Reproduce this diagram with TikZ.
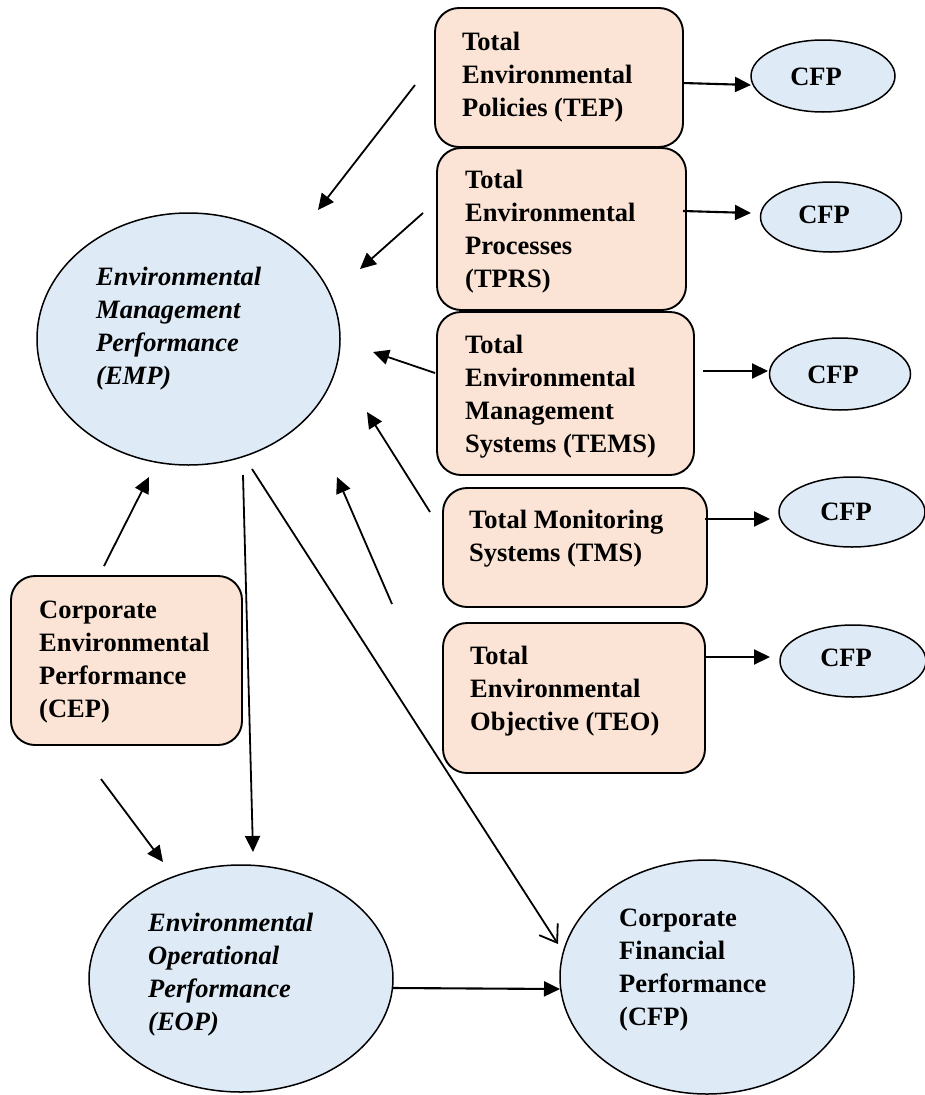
\documentclass[tikz,border=0pt]{standalone}
\usepackage{fontspec}
\setmainfont{Liberation Serif}
\usetikzlibrary{shapes.geometric,arrows.meta}
\definecolor{peach}{HTML}{FBE4D5}
\definecolor{lblue}{HTML}{DEEAF6}
\begin{document}
\begin{tikzpicture}[x=1pt,y=-1pt,
  pbox/.style={draw, line width=1.9pt, fill=peach, rounded corners=24pt, inner sep=0pt},
  bell/.style={draw, line width=1.5pt, fill=lblue, ellipse, inner sep=0pt},
  txt/.style={anchor=west, align=left, inner sep=0pt, font=\fontsize{26.5}{33}\selectfont\bfseries},
  itxt/.style={anchor=west, align=left, inner sep=0pt, font=\fontsize{26.5}{33}\selectfont\bfseries\itshape},
  ctxt/.style={inner sep=0pt, font=\fontsize{26.5}{33}\selectfont\bfseries},
  arr/.style={line width=2.1pt, -{Triangle[length=16pt,width=15pt]}},
  larr/.style={line width=1.8pt, -{Triangle[length=16pt,width=15pt]}},
  oarr/.style={line width=1.8pt, -{Straight Barb[length=16pt,width=22pt,line width=1.8pt]}}]
\useasboundingbox (0,0) rectangle (925,1095);
\fill[white] (0,0) rectangle (925,1095);

% boxes
\node[pbox, minimum width=248pt, minimum height=139pt] (tep) at (559,77.5) {};
\node[pbox, minimum width=249pt, minimum height=162pt] (tprs) at (561.5,229) {};
\node[pbox, minimum width=257pt, minimum height=163pt] (tems) at (565.5,393.5) {};
\node[pbox, minimum width=264pt, minimum height=119pt] (tms) at (575,547.5) {};
\node[pbox, minimum width=262pt, minimum height=150pt] (teo) at (574,698) {};
\node[pbox, minimum width=231pt, minimum height=169pt] (cep) at (126.5,660.5) {};

% ellipses
\node[bell, minimum width=303pt, minimum height=252pt] (emp) at (188.5,339) {};
\node[bell, minimum width=304pt, minimum height=227pt] (eop) at (241,978.5) {};
\node[bell, minimum width=294pt, minimum height=234pt] (cfp) at (707,977) {};
\node[bell, minimum width=144pt, minimum height=72pt] (cfp1) at (823,76) {};
\node[bell, minimum width=141pt, minimum height=70pt] (cfp2) at (831,217) {};
\node[bell, minimum width=141pt, minimum height=72pt] (cfp3) at (840,374) {};
\node[bell, minimum width=146pt, minimum height=70pt] (cfp4) at (852,512) {};
\node[bell, minimum width=146pt, minimum height=72pt] (cfp5) at (853,661) {};

% texts
\node[txt] (tep-t) at (462,77) {Total\\Environmental\\Policies (TEP)};
\node[txt] (tprs-t) at (465,232) {Total\\Environmental\\Processes\\(TPRS)};
\node[txt] (tems-t) at (465,397) {Total\\Environmental\\Management\\Systems (TEMS)};
\node[txt] (tms-t) at (469,538.5) {Total Monitoring\\Systems (TMS)};
\node[txt] (teo-t) at (470,691.5) {Total\\Environmental\\Objective (TEO)};
\node[txt] (cep-t) at (39,662.5) {Corporate\\Environmental\\Performance\\(CEP)};
\node[itxt] (emp-t) at (96,329) {Environmental\\Management\\Performance\\(EMP)};
\node[itxt] (eop-t) at (148,975) {Environmental\\Operational\\Performance\\(EOP)};
\node[txt] (cfp-t) at (619,970) {Corporate\\Financial\\Performance\\(CFP)};
\node[ctxt] (cfp1-t) at (816,77) {CFP};
\node[ctxt] (cfp2-t) at (824,215) {CFP};
\node[ctxt] (cfp3-t) at (833,375) {CFP};
\node[ctxt] (cfp4-t) at (846,512) {CFP};
\node[ctxt] (cfp5-t) at (846,658) {CFP};

% arrow end points
\coordinate (h1s) at (683,83);  \coordinate (h1e) at (751,85);
\coordinate (h2s) at (683,211); \coordinate (h2e) at (751,213);
\coordinate (h3s) at (703,371); \coordinate (h3e) at (768,371);
\coordinate (h4s) at (705,519); \coordinate (h4e) at (770,519);
\coordinate (h5s) at (705,657); \coordinate (h5e) at (770,657);
\coordinate (h6s) at (393,988); \coordinate (h6e) at (560,989);
\coordinate (as) at (415,85);  \coordinate (ae) at (318,210);
\coordinate (bs) at (423,213); \coordinate (be) at (360,269);
\coordinate (cs) at (435,373); \coordinate (ce) at (373,352);
\coordinate (ds) at (430,512); \coordinate (de) at (367,412);
\coordinate (es) at (392,604); \coordinate (ee) at (337,477);
\coordinate (fs) at (104,566); \coordinate (fe) at (149,477);
\coordinate (gs) at (101,779); \coordinate (ge) at (163,862);
\coordinate (hs) at (243,475); \coordinate (he) at (253,852);
\coordinate (is) at (252,469); \coordinate (ie) at (558,944);

% connectors
\draw[arr] (h1s) -- (h1e);
\draw[arr] (h2s) -- (h2e);
\draw[arr] (h3s) -- (h3e);
\draw[arr] (h4s) -- (h4e);
\draw[arr] (h5s) -- (h5e);
\draw[arr] (h6s) -- (h6e);
\draw[larr] (as) -- (ae);
\draw[larr] (bs) -- (be);
\draw[larr] (cs) -- (ce);
\draw[larr] (ds) -- (de);
\draw[larr] (es) -- (ee);
\draw[larr] (fs) -- (fe);
\draw[larr] (gs) -- (ge);
\draw[larr] (hs) -- (he);
\draw[oarr] (is) -- (ie);
\end{tikzpicture}
\end{document}
